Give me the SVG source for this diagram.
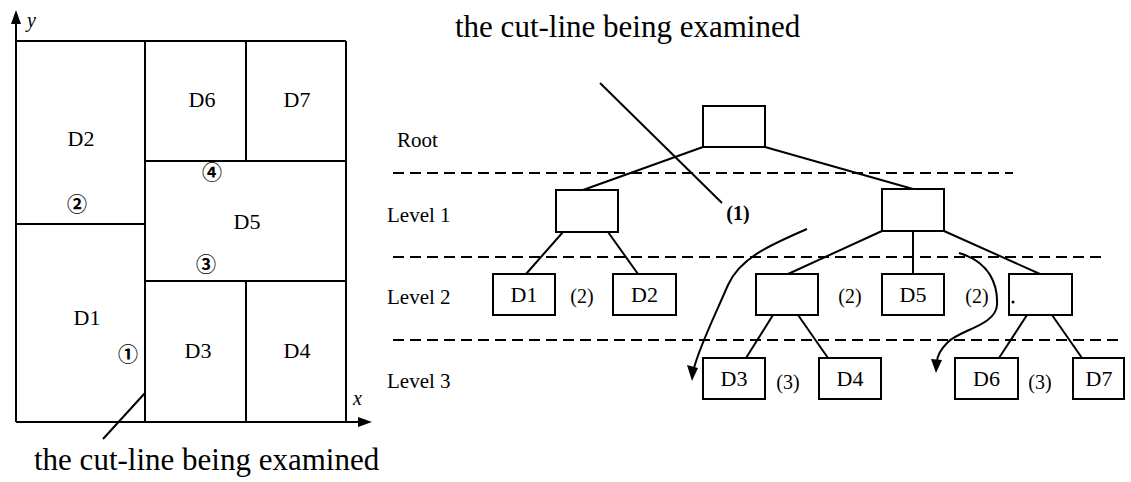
<svg xmlns="http://www.w3.org/2000/svg" width="1131" height="482" viewBox="0 0 1131 482">
<defs>
<style>
.ln{stroke:#000;stroke-width:2;fill:none}
.dash{stroke:#000;stroke-width:2;fill:none;stroke-dasharray:11 6}
.box{stroke:#000;stroke-width:2;fill:#fff}
.t{font-family:"Liberation Serif","Times New Roman",serif;fill:#000}
.lbl{font-size:22px;text-anchor:middle}
.lvl{font-size:21px}
.par{font-size:20px;text-anchor:middle}
.cap{font-size:31px}
.circ{font-family:"Noto Sans CJK JP","DejaVu Sans",sans-serif;font-size:20px;font-weight:bold;text-anchor:middle;dominant-baseline:central;fill:#000}
</style>
</defs>
<rect width="1131" height="482" fill="#fff"/>

<g id="left-plan">
<line class="ln" x1="16" y1="422" x2="16" y2="20"/>
<polygon points="16,10 11,24 21,24" fill="#000"/>
<line class="ln" x1="16" y1="422" x2="362" y2="422"/>
<polygon points="372,422 358,417 358,427" fill="#000"/>
<text class="t" x="27" y="27" font-size="20" font-style="italic">y</text>
<text class="t" x="353" y="405" font-size="20" font-style="italic">x</text>
<line class="ln" x1="16" y1="41" x2="346" y2="41"/>
<line class="ln" x1="346" y1="41" x2="346" y2="422"/>
<line class="ln" x1="145" y1="41" x2="145" y2="422"/>
<line class="ln" x1="16" y1="224" x2="145" y2="224"/>
<line class="ln" x1="145" y1="161" x2="346" y2="161"/>
<line class="ln" x1="246" y1="41" x2="246" y2="161"/>
<line class="ln" x1="145" y1="281" x2="346" y2="281"/>
<line class="ln" x1="246" y1="281" x2="246" y2="422"/>
<line class="ln" x1="145" y1="393" x2="103" y2="439"/>
<text class="t lbl" x="81" y="146" font-size="23">D2</text>
<text class="t lbl" x="202" y="107" font-size="23">D6</text>
<text class="t lbl" x="297" y="107" font-size="23">D7</text>
<text class="t lbl" x="247" y="229" font-size="23">D5</text>
<text class="t lbl" x="87" y="325" font-size="23">D1</text>
<text class="t lbl" x="198" y="358" font-size="23">D3</text>
<text class="t lbl" x="297" y="358" font-size="23">D4</text>
<text class="circ" x="77" y="203">②</text>
<text class="circ" x="212" y="171">④</text>
<text class="circ" x="206" y="263">③</text>
<text class="circ" x="128" y="353">①</text>
<text class="t cap" x="34" y="470">the cut-line being examined</text>
</g>

<g id="level-labels">
<text class="t lvl" x="397" y="147">Root</text>
<text class="t lvl" x="387" y="222">Level 1</text>
<text class="t lvl" x="387" y="304">Level 2</text>
<text class="t lvl" x="387" y="388">Level 3</text>
</g>

<g id="dashed-levels">
<line class="dash" x1="393" y1="173" x2="1013" y2="173"/>
<line class="dash" x1="393" y1="257" x2="1104" y2="257"/>
<line class="dash" x1="393" y1="340" x2="1118" y2="340"/>
</g>

<g id="connectors">
<line class="ln" x1="703" y1="147" x2="583" y2="190"/>
<line class="ln" x1="765" y1="147" x2="913" y2="189"/>
<line class="ln" x1="563" y1="232" x2="526" y2="274"/>
<line class="ln" x1="608" y1="232" x2="638" y2="274"/>
<line class="ln" x1="882" y1="231" x2="788" y2="274"/>
<line class="ln" x1="913" y1="231" x2="913" y2="274"/>
<line class="ln" x1="944" y1="231" x2="1040" y2="274"/>
<line class="ln" x1="773" y1="315" x2="746" y2="358"/>
<line class="ln" x1="798" y1="315" x2="828" y2="358"/>
<line class="ln" x1="1027" y1="315" x2="999" y2="358"/>
<line class="ln" x1="1052" y1="315" x2="1082" y2="358"/>
<line class="ln" x1="600" y1="83" x2="722" y2="203"/>
<path class="ln" d="M807,229 C770,245 740,258 728,285 C716,313 700,345 694,368"/>
<polygon points="692,381 687,365 698,368" fill="#000"/>
<path class="ln" d="M959,253 C990,262 998,285 997,305 C996,325 960,330 948,342 C939,351 937,358 937,362"/>
<polygon points="936,373 931,359 942,360" fill="#000"/>
</g>

<g id="root"><rect class="box" x="703" y="106" width="62" height="41"/></g>
<g id="l1-left"><rect class="box" x="556" y="190" width="62" height="42"/></g>
<g id="l1-right"><rect class="box" x="882" y="189" width="62" height="42"/></g>
<g id="D1"><rect class="box" x="493" y="274" width="62" height="41"/><text class="t lbl" x="524" y="302">D1</text></g>
<g id="D2"><rect class="box" x="613" y="274" width="63" height="41"/><text class="t lbl" x="644.5" y="302">D2</text></g>
<g id="l2-a"><rect class="box" x="756" y="274" width="62" height="41"/></g>
<g id="D5"><rect class="box" x="882" y="274" width="62" height="41"/><text class="t lbl" x="913" y="302">D5</text></g>
<g id="l2-c"><rect class="box" x="1009" y="274" width="63" height="41"/><circle cx="1013" cy="302" r="1.5" fill="#000"/></g>
<g id="D3"><rect class="box" x="703" y="358" width="62" height="41"/><text class="t lbl" x="734" y="386">D3</text></g>
<g id="D4"><rect class="box" x="819" y="358" width="62" height="41"/><text class="t lbl" x="850" y="386">D4</text></g>
<g id="D6"><rect class="box" x="955" y="358" width="63" height="41"/><text class="t lbl" x="986.5" y="386">D6</text></g>
<g id="D7"><rect class="box" x="1073" y="358" width="51" height="41"/><text class="t lbl" x="1099" y="386">D7</text></g>

<g id="cut-labels">
<text class="t cap" x="455" y="37">the cut-line being examined</text>
<text class="t par" x="738" y="220" font-weight="bold">(1)</text>
<text class="t par" x="582" y="303">(2)</text>
<text class="t par" x="850" y="303">(2)</text>
<text class="t par" x="977" y="303">(2)</text>
<text class="t par" x="788" y="389">(3)</text>
<text class="t par" x="1040" y="389">(3)</text>
</g>
</svg>
